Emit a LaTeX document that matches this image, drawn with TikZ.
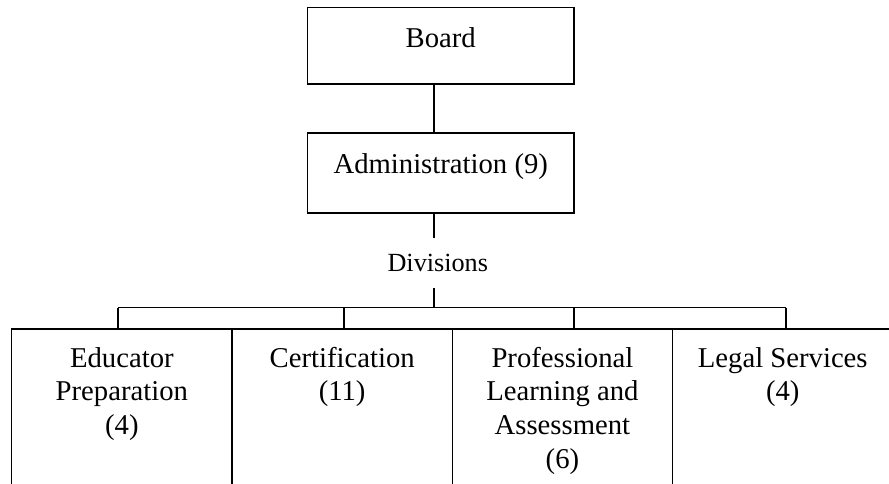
\documentclass[tikz,border=0pt]{standalone}
\usepackage{fontspec}
\setmainfont{Liberation Serif}
\begin{document}
\begin{tikzpicture}[x=1pt,y=-1pt,
  box/.style={draw, line width=1.2pt, rectangle, inner sep=0pt},
  topbox/.style={box, minimum width=266.5pt},
  divbox/.style={box, minimum width=220.3pt, minimum height=180pt},
  lbl/.style={anchor=base, inner sep=0pt, font=\fontsize{28.7}{33.7}\selectfont},
  conn/.style={line width=1.2pt}]
\useasboundingbox (0,0) rectangle (889,483);
\clip (0,0) rectangle (889,483);
% top boxes
\node[topbox, minimum height=76.7pt] (board) at (440.75,45.65) {};
\node[lbl] (boardtxt) at (440.75,47) {Board};
\node[topbox, minimum height=80pt] (admin) at (440.75,173) {};
\node[lbl] (admintxt) at (440.75,173) {Administration (9)};
\node[anchor=base, inner sep=0pt, font=\fontsize{26.2}{30}\selectfont] (div) at (437.8,271) {Divisions};
% division boxes
\node[divbox] (b1) at (121.85,419) {};
\node[divbox] (b2) at (342.15,419) {};
\node[divbox] (b3) at (562.45,419) {};
\node[divbox] (b4) at (782.75,419) {};
\node[lbl] (t1) at (121.85,367) {\begin{tabular}[t]{@{}c@{}}Educator\\Preparation\\(4)\end{tabular}};
\node[lbl] (t2) at (342.15,367) {\begin{tabular}[t]{@{}c@{}}Certification\\(11)\end{tabular}};
\node[lbl] (t3) at (562.45,367) {\begin{tabular}[t]{@{}c@{}}Professional\\Learning and\\Assessment\\(6)\end{tabular}};
\node[lbl] (t4) at (782.75,367) {\begin{tabular}[t]{@{}c@{}}Legal Services\\(4)\end{tabular}};
% connector coordinates
\coordinate (trunk) at (434,0);
\coordinate (divtop) at (434,238);
\coordinate (divbot) at (434,288);
\coordinate (bus) at (434,307.5);
\coordinate (d1) at (118,307.5);
\coordinate (d2) at (344,307.5);
\coordinate (d3) at (574,307.5);
\coordinate (d4) at (786,307.5);
% connectors
\draw[conn] (board.south -| trunk) -- (admin.north -| trunk);
\draw[conn] (admin.south -| trunk) -- (divtop);
\draw[conn] (divbot) -- (bus);
\draw[conn] (d1) -- (d4);
\draw[conn] (d1) -- (b1.north -| d1);
\draw[conn] (d2) -- (b2.north -| d2);
\draw[conn] (d3) -- (b3.north -| d3);
\draw[conn] (d4) -- (b4.north -| d4);
\end{tikzpicture}
\end{document}
